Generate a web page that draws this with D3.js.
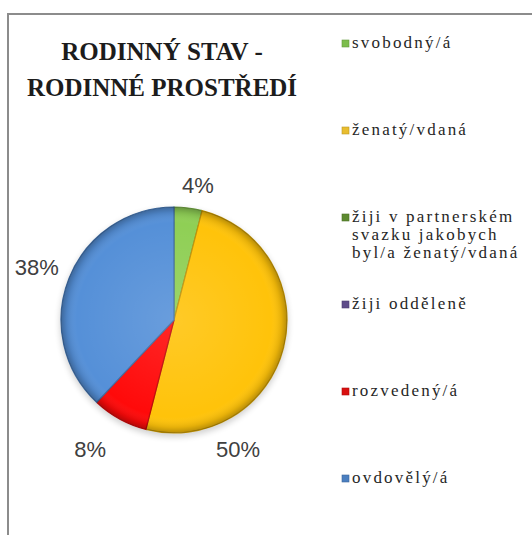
<!DOCTYPE html>
<html>
<head>
<meta charset="utf-8">
<script src="https://cdn.jsdelivr.net/npm/d3@7"></script>
<style>
  body { margin: 0; background: #fff; }
  svg { display: block; }
</style>
</head>
<body>
<svg id="chart" width="532" height="535"></svg>
<script>
// data
const categories = ["svobodný/á", "ženatý/vdaná", "žiji v partnerském svazku jakobych byl/a ženatý/vdaná", "žiji odděleně", "rozvedený/á", "ovdovělý/á"];
const values = [4, 50, 0, 0, 8, 38];
const titleLines = ["RODINNÝ STAV -", "RODINNÉ PROSTŘEDÍ"];

// look
const SERIF = '"Liberation Serif"';
const SANS = '"Liberation Sans"';
const sliceColors = ["#8fcf55", "#ffc30a", "#6a9a3a", "#6a5296", "#ff0a0a", "#5590d8"];
const markerColors = ["#7cbd4c", "#e9bd2e", "#5d8a30", "#5e4b89", "#d90f0f", "#4a7fc0"];
const legendLines = [["svobodný/á"], ["ženatý/vdaná"], ["žiji v partnerském", "svazku jakobych", "byl/a ženatý/vdaná"], ["žiji odděleně"], ["rozvedený/á"], ["ovdovělý/á"]];
// label placement (deg from 12 o'clock, radius) - excel "best fit"
const labelPlace = [[10, 137], [153.6, 144], null, null, [213, 154], [291, 147]];

const svg = d3.select("#chart");
const cx = 174, cy = 320, R = 113;

// frame
svg.append("line").attr("x1", 7).attr("x2", 532).attr("y1", 14).attr("y2", 14)
  .attr("stroke", "#8c8c8c").attr("stroke-width", 2);
svg.append("line").attr("x1", 8).attr("x2", 8).attr("y1", 13).attr("y2", 535)
  .attr("stroke", "#8c8c8c").attr("stroke-width", 2);

// title
svg.append("g").selectAll("text").data(titleLines).enter().append("text")
  .style("font-family", SERIF)
  .attr("x", 162).attr("y", (d, i) => 60 + i * 36)
  .attr("text-anchor", "middle")
  .attr("font-weight", "700").attr("font-size", "25px").attr("fill", "#1c1c1c")
  .text(d => d);

const defs = svg.append("defs");
const shade = defs.append("radialGradient").attr("id", "shade")
  .attr("cx", "50%").attr("cy", "50%").attr("r", "50%");
shade.append("stop").attr("offset", "0%").attr("stop-color", "#fff").attr("stop-opacity", 0.12);
shade.append("stop").attr("offset", "86%").attr("stop-color", "#fff").attr("stop-opacity", 0.0);
shade.append("stop").attr("offset", "95%").attr("stop-color", "#000").attr("stop-opacity", 0.10);
shade.append("stop").attr("offset", "100%").attr("stop-color", "#000").attr("stop-opacity", 0.28);
const blur = defs.append("filter").attr("id", "shadow").attr("x", "-20%").attr("y", "-20%").attr("width", "140%").attr("height", "140%");
blur.append("feGaussianBlur").attr("stdDeviation", 3);

const pie = d3.pie().sort(null).value(d => d)(values);
const arc = d3.arc().innerRadius(0).outerRadius(R);

const g = svg.append("g").attr("transform", `translate(${cx},${cy})`);
g.append("circle").attr("r", R + 1).attr("cy", 3).attr("fill", "#000").attr("opacity", 0.18)
  .attr("filter", "url(#shadow)");

g.selectAll("path.slice").data(pie.filter(d => d.value > 0)).enter().append("path")
  .attr("class", "slice")
  .attr("d", arc)
  .attr("fill", d => sliceColors[d.index])
  .attr("stroke", d => d3.color(sliceColors[d.index]).darker(0.8))
  .attr("stroke-width", 1.2);
g.append("circle").attr("r", R).attr("fill", "url(#shade)");

// pct labels
g.selectAll("text.pct").data(pie.filter(d => d.value > 0)).enter().append("text")
  .attr("class", "pct")
  .style("font-family", SANS)
  .attr("transform", d => {
    const p = labelPlace[d.index];
    const a = p[0] * Math.PI / 180;
    return `translate(${p[1] * Math.sin(a)},${-p[1] * Math.cos(a)})`;
  })
  .attr("text-anchor", "middle").attr("dy", "0.35em")
  .attr("font-size", "22px").attr("fill", "#404040")
  .text(d => d.value + "%");

// legend
const ly = d3.scalePoint().domain(categories).range([48, 483]);
const leg = svg.append("g").selectAll("g").data(categories).enter().append("g")
  .attr("transform", d => `translate(342,${ly(d)})`);
leg.append("rect").attr("x", 0).attr("y", -8).attr("width", 7).attr("height", 7)
  .attr("fill", (d, i) => markerColors[i])
  .attr("stroke", (d, i) => d3.color(markerColors[i]).darker(0.6)).attr("stroke-width", 0.6);
leg.append("text")
  .style("font-family", SERIF)
  .attr("font-size", "17px").attr("letter-spacing", "2.2px").attr("fill", "#262626")
  .selectAll("tspan").data((d, i) => legendLines[i]).enter().append("tspan")
  .attr("x", 10).attr("dy", (d, i) => i === 0 ? 0 : 18)
  .text(d => d);
</script>
</body>
</html>
